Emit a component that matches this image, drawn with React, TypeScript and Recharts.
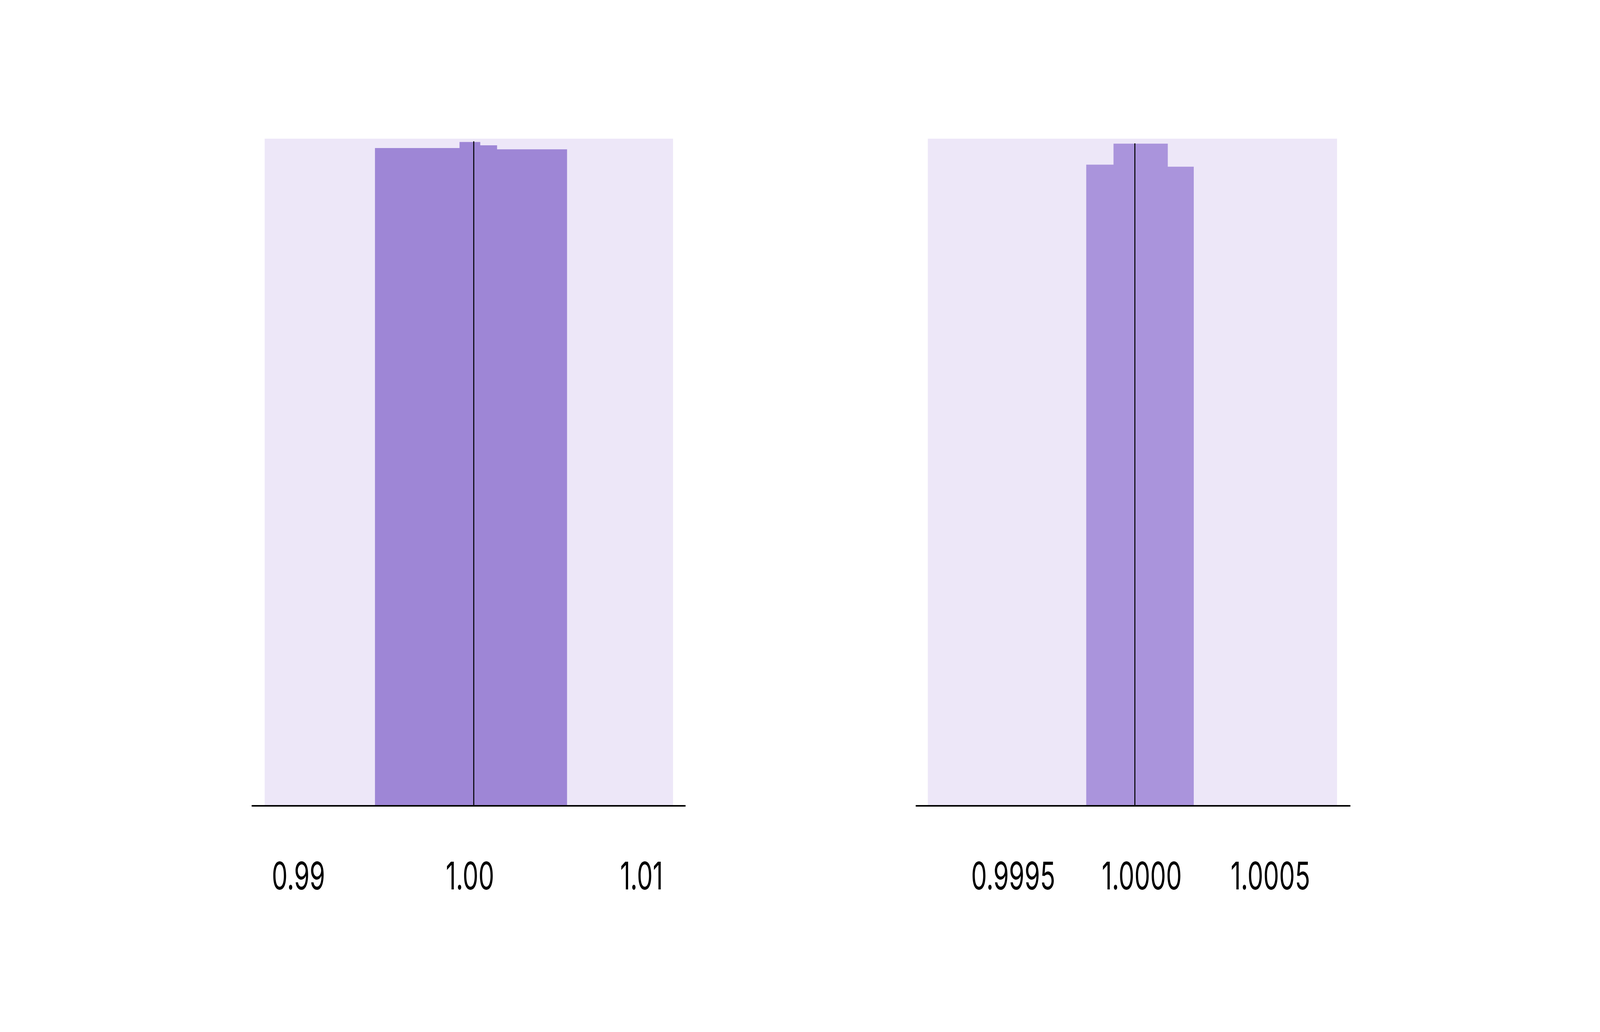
import React from 'react'
import {
  ComposedChart,
  Area,
  XAxis,
  YAxis,
  ReferenceArea,
  ReferenceLine,
} from 'recharts'

// left panel: wide histogram
const leftEdges = [0.99446, 0.99939, 1.0006, 1.00158, 1.00566]
const leftHeights = [98.6, 99.5, 99.0, 98.4]
const leftMean = 1.00022
const leftMeanHeight = 99.6
const leftTicks = [0.99, 1.0, 1.01]
const leftTickLabels = ['0.99', '1.00', '1.01']
const leftAxisRange = [0.98727, 1.01257]
const leftPanelRange = [0.98803, 1.01184]

// right panel: narrow histogram
const rightEdges = [0.999784, 0.99989, 0.999997, 1.000101, 1.000202]
const rightHeights = [96.1, 99.25, 99.25, 95.8]
const rightMean = 0.999973
const rightMeanHeight = 99.3
const rightTicks = [0.9995, 1.0, 1.0005]
const rightTickLabels = ['0.9995', '1.0000', '1.0005']
const rightAxisRange = [0.999121, 1.000811]
const rightPanelRange = [0.999168, 1.000759]

const yMax = 100

// the real window is narrower than the drawing, so it is squeezed sideways to fit
const VIEW_W = 4096
const FULL_W = 6250
const H = 2634

const toSteps = (edges: number[], heights: number[]) =>
  edges.map((x, i) => ({ x, y: heights[Math.min(i, heights.length - 1)] }))

type PanelProps = {
  edges: number[]
  heights: number[]
  mean: number
  meanHeight: number
  ticks: number[]
  tickLabels: string[]
  axisRange: number[]
  panelRange: number[]
  fill: string
  marginLeft: number
  marginRight: number
}

const Panel = (p: PanelProps) => {
  const data = toSteps(p.edges, p.heights)
  return (
    <ComposedChart
      width={3125}
      height={H}
      data={data}
      margin={{ top: 355, right: p.marginRight, bottom: H - 2093, left: p.marginLeft }}
    >
      <XAxis
        dataKey="x"
        type="number"
        domain={p.axisRange}
        allowDataOverflow
        ticks={p.ticks}
        tickFormatter={(v: number) => p.tickLabels[p.ticks.indexOf(v)] ?? String(v)}
        tickLine={false}
        tickSize={0}
        tickMargin={144}
        axisLine={{ stroke: '#000', strokeWidth: 4 }}
        tick={{ fill: '#000', fontSize: 98, fontFamily: 'Inter' }}
      />
      <YAxis hide domain={[0, yMax]} allowDataOverflow />
      <ReferenceArea
        x1={p.panelRange[0]}
        x2={p.panelRange[1]}
        y1={0}
        y2={yMax}
        fill="#EDE7F8"
        fillOpacity={1}
        stroke="none"
      />
      <Area
        dataKey="y"
        type="stepAfter"
        fill={p.fill}
        fillOpacity={1}
        stroke="none"
        isAnimationActive={false}
        dot={false}
        activeDot={false}
      />
      <ReferenceLine
        segment={[
          { x: p.mean, y: 0 },
          { x: p.mean, y: p.meanHeight },
        ]}
        stroke="#000"
        strokeWidth={4}
      />
    </ComposedChart>
  )
}

export default function App() {
  return (
    <div style={{ marginLeft: -8, marginTop: -8, width: VIEW_W, height: H, overflow: 'hidden', background: '#fff' }}>
      <div
        style={{
          display: 'flex',
          width: FULL_W,
          height: H,
          transform: `scaleX(${VIEW_W / FULL_W})`,
          transformOrigin: '0 0',
        }}
      >
        <Panel
          edges={leftEdges}
          heights={leftHeights}
          mean={leftMean}
          meanHeight={leftMeanHeight}
          ticks={leftTicks}
          tickLabels={leftTickLabels}
          axisRange={leftAxisRange}
          panelRange={leftPanelRange}
          fill="#9E86D6"
          marginLeft={983}
          marginRight={3125 - 2678}
        />
        <Panel
          edges={rightEdges}
          heights={rightHeights}
          mean={rightMean}
          meanHeight={rightMeanHeight}
          ticks={rightTicks}
          tickLabels={rightTickLabels}
          axisRange={rightAxisRange}
          panelRange={rightPanelRange}
          fill="#AA94DC"
          marginLeft={3577 - 3125}
          marginRight={6250 - 5275}
        />
      </div>
    </div>
  )
}
